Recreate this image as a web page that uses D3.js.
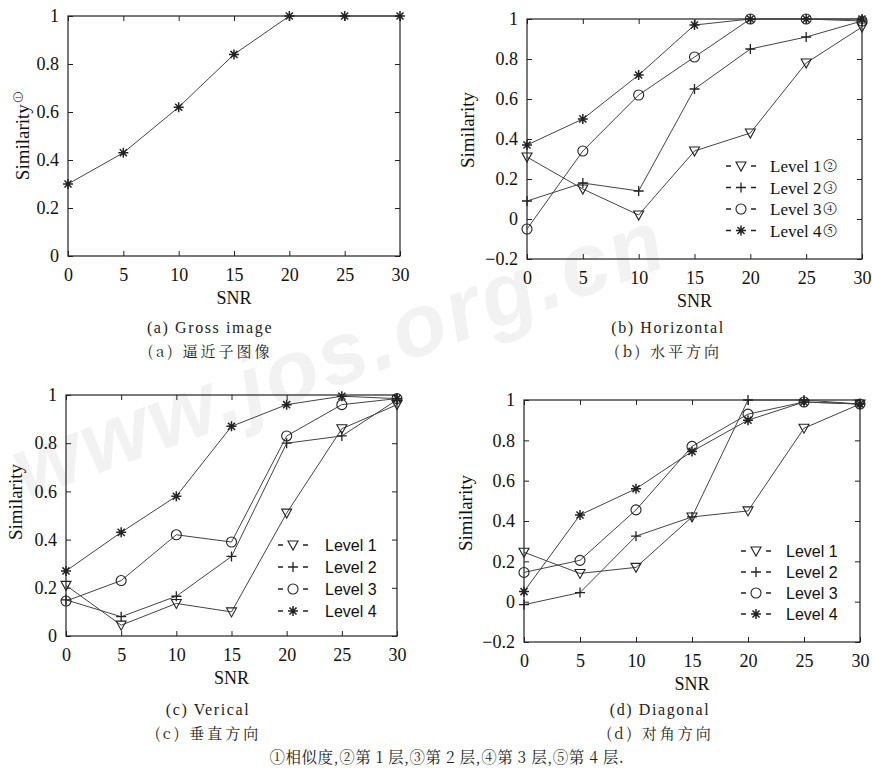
<!DOCTYPE html>
<html><head><meta charset="utf-8">
<script src="https://cdn.jsdelivr.net/npm/d3@7"></script>
</head>
<body style="margin:0">
<svg id="chart" width="872" height="775" style="display:block;background:#fff"></svg>
<script>
// ---------- DATA ----------
const snr = [0, 5, 10, 15, 20, 25, 30];
const xTicks = [0, 5, 10, 15, 20, 25, 30];
const yTicksPos = [0, 0.2, 0.4, 0.6, 0.8, 1];
const yTicksNeg = [-0.2, 0, 0.2, 0.4, 0.6, 0.8, 1];

const grossSim = [0.30, 0.43, 0.62, 0.84, 1.0, 1.0, 1.0];

const horizL1 = [0.31, 0.15, 0.02, 0.34, 0.43, 0.78, 0.96];
const horizL2 = [0.09, 0.18, 0.14, 0.65, 0.85, 0.91, 0.99];
const horizL3 = [-0.05, 0.34, 0.62, 0.81, 1.0, 1.0, 0.99];
const horizL4 = [0.37, 0.50, 0.72, 0.97, 1.0, 1.0, 1.0];

const vertL1 = [0.21, 0.045, 0.135, 0.10, 0.51, 0.86, 0.96];
const vertL2 = [0.15, 0.08, 0.165, 0.33, 0.80, 0.83, 0.98];
const vertL3 = [0.145, 0.23, 0.42, 0.39, 0.83, 0.96, 0.985];
const vertL4 = [0.27, 0.43, 0.58, 0.87, 0.96, 0.995, 0.985];

const diagL1 = [0.245, 0.14, 0.17, 0.42, 0.45, 0.86, 0.98];
const diagL2 = [-0.015, 0.045, 0.325, 0.42, 1.0, 1.0, 0.98];
const diagL3 = [0.145, 0.205, 0.455, 0.77, 0.93, 0.99, 0.98];
const diagL4 = [0.05, 0.43, 0.56, 0.745, 0.90, 0.99, 0.98];

const levelNames = ["Level 1", "Level 2", "Level 3", "Level 4"];
const levelNotes = ["②", "③", "④", "⑤"];
const levelMarkers = ["tri", "plus", "circle", "star"];

const captionsEn = ["(a) Gross image", "(b) Horizontal", "(c) Verical", "(d) Diagonal"];
const captionsZh = ["(a) 逼近子图像", "(b) 水平方向", "(c) 垂直方向", "(d) 对角方向"];
const footnote = "①相似度,②第 1 层,③第 2 层,④第 3 层,⑤第 4 层.";
const watermark = "www.jos.org.cn";

// ---------- DRAW ----------
const SERIF = '"Nimbus Roman", "Liberation Serif", Tinos, FreeSerif, "Noto Serif CJK SC"';
const SANS = '"Liberation Sans", Arimo, "DejaVu Sans"';
const CJK = '"Noto Serif CJK SC", "Noto Sans CJK SC"';
const svg = d3.select("#chart").style("font-family", SERIF);
const ink = "#222";

function txt(parent, family) {
  const t = parent.append("text");
  t.style("font-family", family).attr("font-family", family);
  return t;
}

// watermark (faint)
txt(svg, SANS)
  .attr("transform", "translate(25,500) rotate(-20)")
  .attr("font-weight", "bold").attr("font-style", "italic")
  .attr("font-size", 88).attr("letter-spacing", 3)
  .attr("fill", "#f2f2f2")
  .text(watermark);

function marker(g, type, x, y) {
  const s = 5;
  if (type === "tri") {
    g.append("path").attr("d", `M${x - s},${y - 4}L${x + s},${y - 4}L${x},${y + 5}Z`)
      .attr("fill", "none").attr("stroke", ink).attr("stroke-width", 1.1);
  } else if (type === "plus") {
    g.append("path").attr("d", `M${x - s},${y}H${x + s}M${x},${y - s}V${y + s}`)
      .attr("fill", "none").attr("stroke", ink).attr("stroke-width", 1.3);
  } else if (type === "circle") {
    g.append("circle").attr("cx", x).attr("cy", y).attr("r", s)
      .attr("fill", "none").attr("stroke", ink).attr("stroke-width", 1.1);
  } else {
    let d = "";
    for (let k = 0; k < 4; k++) {
      const a = k * Math.PI / 4;
      d += `M${x - s * Math.cos(a)},${y - s * Math.sin(a)}L${x + s * Math.cos(a)},${y + s * Math.sin(a)}`;
    }
    g.append("path").attr("d", d).attr("fill", "none").attr("stroke", ink).attr("stroke-width", 1.5);
  }
}

function panel(cfg) {
  const g = svg.append("g");
  const x = d3.scaleLinear().domain([0, 30]).range([cfg.left, cfg.right]);
  const y = d3.scaleLinear().domain([cfg.ymin, 1]).range([cfg.bottom, cfg.top]);
  const yt = cfg.ymin < 0 ? yTicksNeg : yTicksPos;
  const fmt = v => (Math.abs(v) < 1e-9 ? "0" : d3.format("~g")(v)).replace("-", "−");

  const ax = d3.axisBottom(x).tickValues(xTicks).tickSize(-5).tickPadding(12).tickFormat(d3.format("d"));
  const axT = d3.axisTop(x).tickValues(xTicks).tickSize(-5).tickFormat("");
  const ay = d3.axisLeft(y).tickValues(yt).tickSize(-5).tickPadding(9).tickFormat(fmt);
  const ayR = d3.axisRight(y).tickValues(yt).tickSize(-5).tickFormat("");
  const styleAx = sel => {
    sel.attr("font-family", SERIF).style("font-family", SERIF).attr("font-size", 18);
    sel.select(".domain").remove();
    sel.selectAll("line").attr("stroke", ink);
    sel.selectAll("text").style("font-family", SERIF).attr("font-family", SERIF)
      .attr("font-size", 18).attr("fill", "#111");
  };
  g.append("g").attr("transform", `translate(0,${cfg.bottom})`).call(ax).call(styleAx);
  g.append("g").attr("transform", `translate(0,${cfg.top})`).call(axT).call(styleAx);
  g.append("g").attr("transform", `translate(${cfg.left},0)`).call(ay).call(styleAx);
  g.append("g").attr("transform", `translate(${cfg.right},0)`).call(ayR).call(styleAx);
  g.append("rect").attr("x", cfg.left).attr("y", cfg.top)
    .attr("width", cfg.right - cfg.left).attr("height", cfg.bottom - cfg.top)
    .attr("fill", "none").attr("stroke", ink).attr("stroke-width", 1.2);

  txt(g, SERIF).attr("x", (cfg.left + cfg.right) / 2).attr("y", cfg.bottom + 48)
    .attr("text-anchor", "middle").attr("font-size", 18).attr("fill", "#111").text("SNR");
  const yl = txt(g, SERIF)
    .attr("transform", `translate(${cfg.ylx},${cfg.yly}) rotate(-90)`)
    .attr("text-anchor", "middle").attr("font-size", 19).attr("fill", "#111")
    .text("Similarity");
  if (cfg.ynote) yl.append("tspan").attr("font-size", 11).attr("dy", -8).attr("dx", 2).text("①");

  const line = d3.line().x((d, i) => x(snr[i])).y(d => y(d));
  cfg.series.forEach((vals, si) => {
    g.append("path").attr("d", line(vals)).attr("fill", "none")
      .attr("stroke", "#444").attr("stroke-width", 1);
    vals.forEach((v, i) => marker(g, cfg.markers[si], x(snr[i]), y(v)));
  });

  if (cfg.legend) {
    const L = cfg.legend;
    cfg.series.forEach((vals, si) => {
      const ly = L.y0 + si * L.dy;
      g.append("path").attr("d", `M${L.x0},${ly}H${L.x0 + 30}`)
        .attr("stroke", ink).attr("stroke-width", 1.5).attr("stroke-dasharray", "5,20");
      marker(g, cfg.markers[si], L.x0 + 15, ly);
      const t = txt(g, L.font).attr("x", L.tx).attr("y", ly + 6)
        .attr("font-size", L.size).attr("fill", "#111")
        .text(levelNames[si]);
      if (L.notes) t.append("tspan").attr("font-size", 14).attr("dx", 2).attr("dy", -3).text(levelNotes[si]);
    });
  }

  txt(svg, SERIF).attr("x", cfg.capX).attr("y", cfg.capY).attr("text-anchor", "middle")
    .attr("font-size", 16).attr("letter-spacing", 1.6).attr("fill", "#222")
    .text(cfg.capEn);
  txt(svg, CJK).attr("x", cfg.capX).attr("y", cfg.capY + 24).attr("text-anchor", "middle")
    .attr("font-size", 15).attr("letter-spacing", 3).attr("fill", "#222")
    .text(cfg.capZh);
}

panel({left: 68, right: 400, top: 16, bottom: 256, ymin: 0, ylx: 29, yly: 136, ynote: true,
  series: [grossSim], markers: ["star"], capX: 210, capY: 333,
  capEn: captionsEn[0], capZh: captionsZh[0]});

panel({left: 527, right: 862, top: 19, bottom: 259, ymin: -0.2, ylx: 474, yly: 130,
  series: [horizL1, horizL2, horizL3, horizL4], markers: levelMarkers, capX: 668, capY: 333,
  capEn: captionsEn[1], capZh: captionsZh[1],
  legend: {x0: 726, tx: 770, y0: 166, dy: 21.5, font: SERIF, size: 17, notes: true}});

panel({left: 66, right: 397, top: 395, bottom: 636, ymin: 0, ylx: 22, yly: 502,
  series: [vertL1, vertL2, vertL3, vertL4], markers: levelMarkers, capX: 208, capY: 715,
  capEn: captionsEn[2], capZh: captionsZh[2],
  legend: {x0: 278, tx: 325, y0: 545, dy: 22, font: SANS, size: 16, notes: false}});

panel({left: 524, right: 860, top: 400, bottom: 642, ymin: -0.2, ylx: 472, yly: 513,
  series: [diagL1, diagL2, diagL3, diagL4], markers: levelMarkers, capX: 660, capY: 715,
  capEn: captionsEn[3], capZh: captionsZh[3],
  legend: {x0: 741, tx: 786, y0: 551, dy: 21, font: SANS, size: 16, notes: false}});

txt(svg, CJK).attr("x", 447).attr("y", 763).attr("text-anchor", "middle")
  .attr("font-size", 15.5).attr("letter-spacing", 0.5).attr("fill", "#222")
  .text(footnote);
</script>
</body></html>
